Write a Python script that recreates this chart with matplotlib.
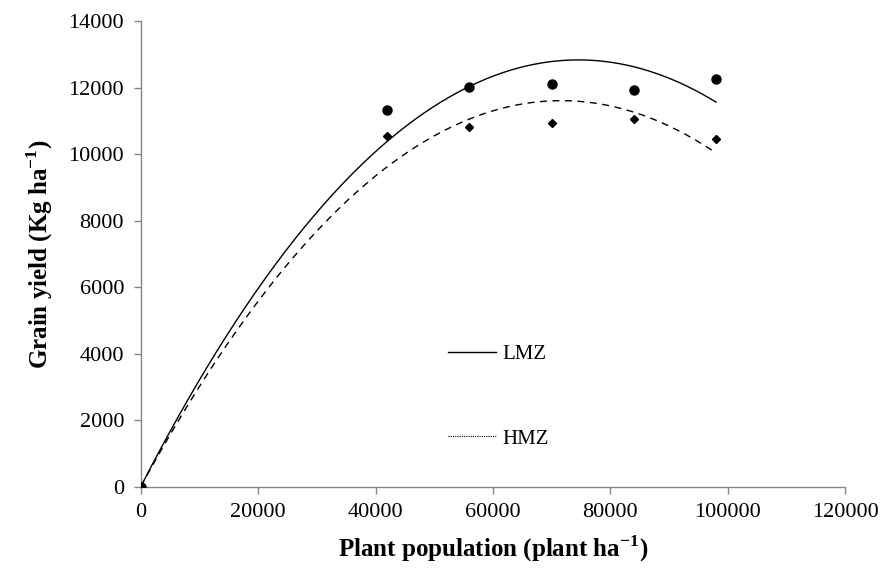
import numpy as np
import matplotlib
matplotlib.use('Agg')
import matplotlib.pyplot as plt
from matplotlib.lines import Line2D

# данные с графика
population = [0, 42000, 56000, 70000, 84000, 98000]
lmz_yield = [0, 11320, 12020, 12110, 11930, 12260]
hmz_yield = [0, 10540, 10810, 10930, 11050, 10450]

plt.rcParams['font.family'] = ['Liberation Serif', 'DejaVu Serif']
plt.rcParams['mathtext.fontset'] = 'custom'
plt.rcParams['mathtext.rm'] = 'Liberation Serif'
plt.rcParams['mathtext.bf'] = 'Liberation Serif:bold'


def quad_trend(x, y, xs):
    # полиномиальный тренд 2 степени, пересечение в нуле (как в Excel)
    x = np.asarray(x, dtype=float)
    A = np.column_stack([x, x ** 2])
    coef = np.linalg.lstsq(A, np.asarray(y, dtype=float), rcond=None)[0]
    return coef[0] * xs + coef[1] * xs ** 2


fig = plt.figure(figsize=(8.85, 5.72), dpi=100)
ax = fig.add_axes([0.159, 0.149, 0.796, 0.814])

# точки
ax.plot(population, lmz_yield, 'o', color='black', markersize=6.5, zorder=3)
ax.plot(population, hmz_yield, 'D', color='black', markersize=4.5, zorder=3)

# линии тренда
xs = np.linspace(0, 98000, 300)
line_l, = ax.plot(xs, quad_trend(population, lmz_yield, xs), '-',
                  color='black', linewidth=1.0)
ax.plot(xs, quad_trend(population, hmz_yield, xs), color='black',
        linewidth=1.0, dashes=(5, 4))

# легенда
h_legend = Line2D([], [], color='black', linewidth=0.8, linestyle=(0, (1, 1)))
ax.legend([line_l, h_legend], ['LMZ', 'HMZ'], loc='upper left',
          bbox_to_anchor=(0.41, 0.345), frameon=False, fontsize=15,
          handlelength=2.3, handletextpad=0.3, labelspacing=3.1)

ax.set_xlim(0, 120000)
ax.set_ylim(0, 14000)
ax.set_xticks(np.arange(0, 120001, 20000))
ax.set_yticks(np.arange(0, 14001, 2000))

for s in ['top', 'right']:
    ax.spines[s].set_visible(False)
for s in ['left', 'bottom']:
    ax.spines[s].set_color('#868686')
    ax.spines[s].set_linewidth(1.0)
ax.tick_params(axis='both', colors='#868686', labelcolor='black', labelsize=16,
               length=5, width=1.0, direction='out')
ax.tick_params(axis='x', pad=7)
ax.tick_params(axis='y', pad=7)

ax.set_xlabel(r'Plant population (plant ha$^{\mathbf{-1}}$)', fontsize=18,
              fontweight='bold', labelpad=8)
ax.set_ylabel(r'Grain yield (Kg ha$^{\mathbf{-1}}$)', fontsize=18,
              fontweight='bold', labelpad=10)

fig.savefig('out.png', dpi=100)
